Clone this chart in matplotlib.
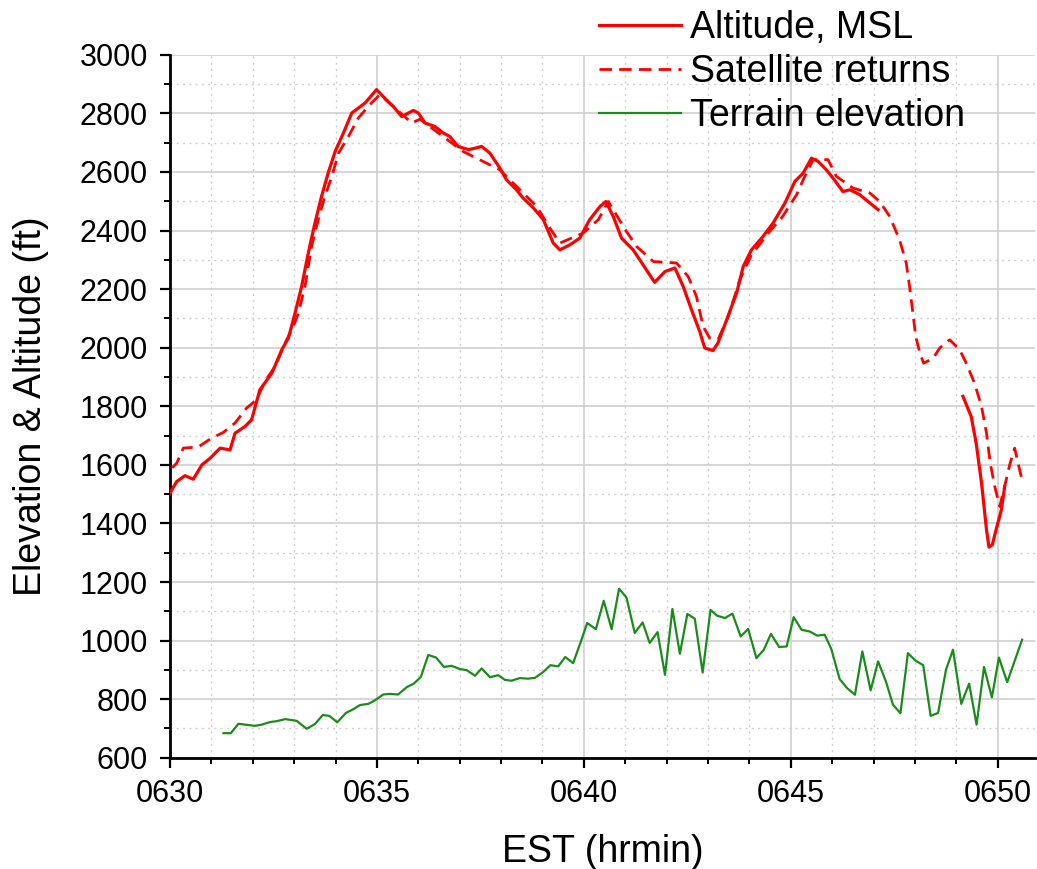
import matplotlib
matplotlib.use("Agg")
import matplotlib.pyplot as plt
from matplotlib.ticker import MultipleLocator, FuncFormatter

plt.rcParams["font.family"] = ["Liberation Sans", "DejaVu Sans"]

# time is minutes after 0600 (EST, hrmin)
alt_t = [30.0, 30.16, 30.36, 30.56, 30.77, 30.97, 31.21, 31.45, 31.57, 31.81, 31.97,
         32.17, 32.46, 32.70, 32.86, 33.02, 33.18, 33.34, 33.50, 33.66, 33.82, 33.99,
         34.19, 34.39, 34.71, 34.99, 35.20, 35.39, 35.60, 35.88, 36.00, 36.16, 36.40,
         36.60, 36.76, 36.96, 37.21, 37.37, 37.53, 37.73, 37.97, 38.13, 38.37, 38.53,
         38.78, 39.02, 39.26, 39.42, 39.66, 39.90, 40.14, 40.39, 40.53, 40.71, 40.91,
         41.19, 41.43, 41.71, 41.96, 42.20, 42.40, 42.60, 42.80, 42.92, 43.12, 43.24,
         43.45, 43.69, 43.85, 44.05, 44.33, 44.57, 44.86, 45.10, 45.30, 45.50, 45.66,
         45.86, 46.02, 46.26, 46.43, 46.67, 46.91, 47.11]
alt_v = [1504, 1543, 1563, 1551, 1600, 1623, 1657, 1651, 1708, 1731, 1754,
         1856, 1913, 1993, 2033, 2118, 2209, 2323, 2425, 2516, 2596, 2670,
         2733, 2801, 2835, 2881, 2850, 2824, 2789, 2810, 2801, 2767, 2755,
         2733, 2721, 2687, 2676, 2681, 2687, 2664, 2613, 2573, 2539, 2511,
         2477, 2437, 2357, 2334, 2351, 2374, 2437, 2482, 2499, 2448, 2374,
         2334, 2283, 2223, 2260, 2272, 2209, 2130, 2055, 1999, 1990, 2016,
         2095, 2186, 2277, 2334, 2380, 2425, 2494, 2568, 2596, 2647, 2636,
         2607, 2579, 2533, 2539, 2522, 2494, 2471]

alt2_t = [49.16, 49.36, 49.48, 49.61, 49.73, 49.79, 49.87, 49.96, 50.09, 50.17]
alt2_v = [1834, 1765, 1674, 1538, 1378, 1319, 1327, 1378, 1447, 1526]

sat_t = [30.05, 30.16, 30.32, 30.68, 31.00, 31.29, 31.57, 31.85, 32.09, 32.29, 32.54,
         32.78, 32.98, 33.10, 33.26, 33.42, 33.58, 33.74, 33.91, 34.07, 34.31, 34.55,
         34.79, 35.07, 35.84, 36.04, 37.08, 37.97, 38.86, 39.18, 39.42, 39.98, 40.35,
         40.59, 41.00, 41.27, 41.68, 42.24, 42.52, 42.72, 42.88, 43.04, 43.24, 43.49,
         43.77, 44.05, 44.49, 44.78, 45.14, 45.30, 45.54, 45.90, 46.10, 46.50, 46.91,
         47.15, 47.39, 47.63, 47.79, 47.87, 47.94, 48.02, 48.12, 48.21, 48.44, 48.60,
         48.84, 49.08, 49.24, 49.44, 49.61, 49.73, 49.82, 49.93, 50.05, 50.13, 50.29,
         50.41, 50.53, 50.59]
sat_v = [1590, 1606, 1657, 1661, 1691, 1711, 1743, 1794, 1822, 1885, 1936,
         2016, 2073, 2118, 2209, 2346, 2437, 2516, 2585, 2664, 2721, 2784,
         2824, 2864, 2767, 2780, 2670, 2607, 2482, 2408, 2357, 2391, 2437,
         2499, 2403, 2346, 2294, 2289, 2243, 2175, 2073, 2033, 2027, 2107,
         2232, 2317, 2397, 2443, 2522, 2573, 2642, 2642, 2585, 2545, 2528,
         2499, 2448, 2368, 2289, 2209, 2130, 2038, 1982, 1947, 1964, 1999,
         2027, 1993, 1947, 1879, 1799, 1708, 1606, 1526, 1458, 1504, 1600,
         1657, 1583, 1549]

ter_t = [31.29, 31.47, 31.65, 32.05, 32.21, 32.42, 32.58, 32.78, 33.06, 33.30, 33.50,
         33.69, 33.85, 34.04, 34.25, 34.43, 34.59, 34.79, 34.95, 35.15, 35.31, 35.51,
         35.72, 35.89, 36.06, 36.24, 36.43, 36.62, 36.80, 37.00, 37.17, 37.37, 37.53,
         37.73, 37.93, 38.09, 38.25, 38.45, 38.65, 38.82, 39.02, 39.19, 39.38, 39.55,
         39.74, 39.91, 40.08, 40.29, 40.48, 40.67, 40.85, 41.03, 41.23, 41.42, 41.59,
         41.78, 41.96, 42.14, 42.32, 42.50, 42.68, 42.87, 43.06, 43.22, 43.41, 43.59,
         43.79, 43.97, 44.17, 44.35, 44.52, 44.72, 44.90, 45.07, 45.26, 45.46, 45.64,
         45.82, 45.98, 46.18, 46.36, 46.55, 46.73, 46.93, 47.11, 47.30, 47.47, 47.65,
         47.83, 48.02, 48.20, 48.38, 48.56, 48.75, 48.92, 49.12, 49.31, 49.49, 49.67,
         49.86, 50.03, 50.23, 50.59]
ter_v = [684, 684, 716, 709, 713, 722, 725, 732, 726, 699, 715,
         746, 743, 721, 753, 766, 780, 784, 796, 816, 818, 816,
         841, 853, 876, 951, 942, 910, 914, 903, 899, 880, 905,
         875, 882, 866, 863, 872, 870, 873, 893, 916, 912, 944,
         923, 990, 1060, 1039, 1136, 1039, 1177, 1147, 1026, 1062, 992,
         1029, 883, 1108, 955, 1091, 1075, 891, 1105, 1085, 1077, 1092,
         1014, 1040, 940, 969, 1023, 978, 980, 1080, 1037, 1031, 1017,
         1020, 971, 869, 838, 815, 963, 830, 929, 860, 781, 752,
         957, 931, 916, 743, 753, 900, 969, 784, 853, 713, 910,
         806, 942, 858, 1003]

fig = plt.figure(figsize=(10.37, 8.69), dpi=100)
ax = fig.add_axes([0.164, 0.128, 0.834, 0.809])

red = "#ff0000"
green = "#1a8c1a"
ax.plot(alt_t, alt_v, color=red, lw=2.3, label="Altitude, MSL", zorder=3)
ax.plot(alt2_t, alt2_v, color=red, lw=2.3, zorder=3)
ax.plot(sat_t, sat_v, color=red, lw=2.0, dashes=(4.5, 2.6), label="Satellite returns", zorder=3)
ax.plot(ter_t, ter_v, color=green, lw=1.6, label="Terrain elevation", zorder=3)

ax.set_xlim(30, 50.9)
ax.set_ylim(600, 3000)
ax.xaxis.set_major_locator(MultipleLocator(5))
ax.xaxis.set_minor_locator(MultipleLocator(1))
ax.yaxis.set_major_locator(MultipleLocator(200))
ax.yaxis.set_minor_locator(MultipleLocator(100))
ax.xaxis.set_major_formatter(FuncFormatter(lambda v, p: "06%02d" % int(round(v))))

ax.grid(True, which="major", color="#cfcfcf", lw=1.2, ls="-", zorder=0)
ax.grid(True, which="minor", color="#cfcfcf", lw=1.0, ls=(0, (1.5, 3)), zorder=0)

for s in ["top", "right"]:
    ax.spines[s].set_visible(False)
for s in ["left", "bottom"]:
    ax.spines[s].set_linewidth(2.0)

ax.tick_params(which="major", direction="out", length=7, width=1.6, labelsize=22)
ax.tick_params(axis="y", which="major", pad=9)
ax.tick_params(axis="x", which="major", pad=8)
ax.tick_params(which="minor", direction="out", length=4, width=1.4)

ax.set_xlabel("EST (hrmin)", fontsize=27, labelpad=18)
ax.set_ylabel("Elevation & Altitude (ft)", fontsize=27, labelpad=22)

fig.legend(loc="upper left", bbox_to_anchor=(0.574, 0.993), frameon=False, fontsize=27,
           handlelength=2.2, handletextpad=0.22, labelspacing=0.22, borderpad=0.1,
           borderaxespad=0)

fig.savefig("out.png", dpi=100)
